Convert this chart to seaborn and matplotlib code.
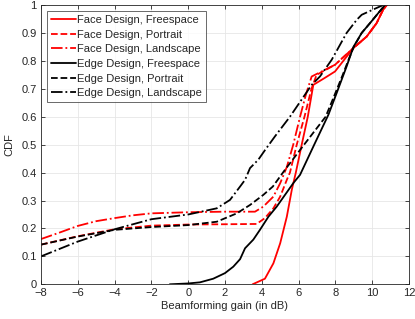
import numpy as np
import pandas as pd
import matplotlib
matplotlib.use("Agg")
import matplotlib.pyplot as plt
import seaborn as sns

# --- values ---
face_free_x = [3.5, 4.17, 4.63, 5.0, 5.36, 5.63, 5.85, 6.17, 6.5, 6.8, 7.4, 7.98, 8.98, 9.7, 10.24, 10.6, 10.8]
face_free_y = [0, 0.02, 0.075, 0.147, 0.242, 0.338, 0.40, 0.50, 0.60, 0.714, 0.738, 0.762, 0.846, 0.887, 0.935, 0.984, 1.0]

face_port_x = [-8, -6, -4, -2, 0, 2, 3.72, 4.17, 4.63, 5.0, 5.36, 5.53, 5.9, 6.32, 6.7, 6.98, 7.98, 8.98, 9.7, 10.24, 10.6, 10.8]
face_port_y = [0.142, 0.172, 0.197, 0.21, 0.214, 0.215, 0.216, 0.237, 0.272, 0.314, 0.374, 0.40, 0.50, 0.60, 0.70, 0.75, 0.786, 0.846, 0.887, 0.935, 0.984, 1.0]

face_land_x = [-8, -7, -6, -5, -4, -3, -2, 0, 2, 3.63, 4.08, 4.63, 5.0, 5.36, 5.71, 6.08, 6.4, 6.71, 7.98, 8.98, 9.7, 10.24, 10.6, 10.8]
face_land_y = [0.162, 0.185, 0.209, 0.226, 0.237, 0.247, 0.254, 0.258, 0.26, 0.26, 0.278, 0.314, 0.362, 0.42, 0.50, 0.60, 0.68, 0.744, 0.786, 0.846, 0.887, 0.935, 0.984, 1.0]

edge_free_x = [-1.0, 0.0, 0.64, 1.36, 2.0, 2.45, 2.82, 3.09, 3.54, 3.9, 4.36, 4.81, 5.71, 6.08, 6.85, 7.62, 8.07, 8.61, 8.98, 9.43, 9.88, 10.33, 10.7]
edge_free_y = [0, 0.003, 0.007, 0.02, 0.04, 0.063, 0.09, 0.129, 0.16, 0.195, 0.242, 0.278, 0.362, 0.392, 0.50, 0.607, 0.685, 0.78, 0.85, 0.9, 0.935, 0.971, 1.0]

edge_port_x = [-8, -6, -4, -2, 0, 1.55, 2.64, 3.36, 4.08, 4.6, 5.26, 6.3, 7.47, 7.89, 8.4, 8.75, 9.0, 9.43, 9.88, 10.33, 10.7]
edge_port_y = [0.142, 0.171, 0.195, 0.205, 0.212, 0.224, 0.254, 0.284, 0.32, 0.35, 0.41, 0.50, 0.60, 0.667, 0.75, 0.81, 0.85, 0.9, 0.935, 0.971, 1.0]

edge_land_x = [-8, -6, -4, -2, 0, 1.55, 2.27, 2.82, 3.09, 3.36, 3.81, 4.17, 4.72, 5.53, 6.71, 7.16, 7.8, 8.61, 9.16, 9.43, 10.06, 10.6]
edge_land_y = [0.1, 0.153, 0.197, 0.233, 0.25, 0.272, 0.302, 0.35, 0.374, 0.416, 0.446, 0.48, 0.53, 0.60, 0.714, 0.744, 0.804, 0.9, 0.947, 0.965, 0.984, 1.0]

series = [
    ("Face Design, Freespace", face_free_x, face_free_y, "red", "-"),
    ("Face Design, Portrait", face_port_x, face_port_y, "red", "--"),
    ("Face Design, Landscape", face_land_x, face_land_y, "red", "-."),
    ("Edge Design, Freespace", edge_free_x, edge_free_y, "black", "-"),
    ("Edge Design, Portrait", edge_port_x, edge_port_y, "black", "--"),
    ("Edge Design, Landscape", edge_land_x, edge_land_y, "black", "-."),
]

sns.set_style("ticks")
plt.rcParams["font.family"] = ["Liberation Sans", "DejaVu Sans"]
plt.rcParams["font.size"] = 8

fig = plt.figure(figsize=(4.15, 3.19), dpi=100)
ax = fig.add_axes([0.0988, 0.1088, 0.8867, 0.8755])

for name, xs, ys, col, ls in series:
    df = pd.DataFrame({"x": xs, "y": ys})
    sns.lineplot(data=df, x="x", y="y", ax=ax, color=col, linestyle=ls,
                 linewidth=1.3, sort=False, label=name)

ax.set_xlim(-8, 12)
ax.set_ylim(0, 1)
ax.set_xticks(np.arange(-8, 13, 2))
ax.set_yticks(np.arange(0, 1.01, 0.1))
ax.set_yticklabels(["0", "0.1", "0.2", "0.3", "0.4", "0.5", "0.6", "0.7", "0.8", "0.9", "1"])
ax.grid(True, color="#e6e6e6", linewidth=0.6)
ax.tick_params(direction="in", length=3, width=0.6, colors="#262626", labelsize=8,
               top=True, right=True, pad=3)
for s in ax.spines.values():
    s.set_visible(True)
    s.set_color("#262626")
    s.set_linewidth(0.6)

ax.set_xlabel("Beamforming gain (in dB)", fontsize=8, labelpad=2)
ax.set_ylabel("CDF", fontsize=8, labelpad=5)

leg = ax.legend(loc="upper left", bbox_to_anchor=(0.017, 0.978), fontsize=8,
                frameon=True, fancybox=False, edgecolor="#262626",
                handlelength=2.2, handletextpad=0.15, labelspacing=0.42,
                borderpad=0.35, borderaxespad=0.0)
leg.get_frame().set_linewidth(0.6)

fig.savefig("out.png", dpi=100)
